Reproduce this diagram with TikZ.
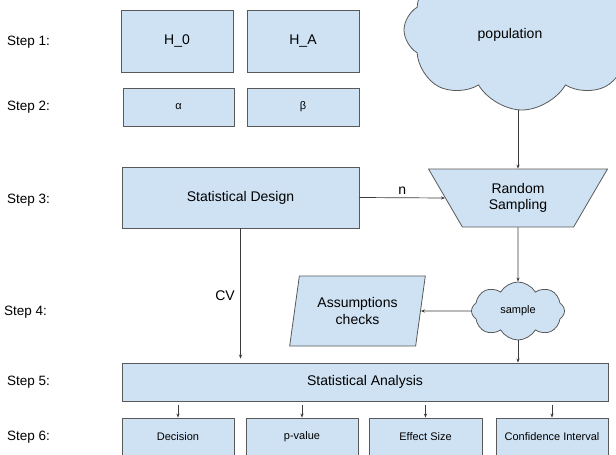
\documentclass[tikz,border=0pt]{standalone}
\usepackage{xcolor}
\usepackage{fontspec}
\setmainfont{Liberation Sans}
\usepackage{tikz}
\usetikzlibrary{arrows.meta,shapes.geometric,shapes.symbols}

\definecolor{boxfill}{HTML}{CFE2F3}
\definecolor{boxline}{HTML}{595959}
\definecolor{flowline}{HTML}{3C3C3C}

\tikzset{
	stepbox/.style={shape=rectangle,draw=boxline,fill=boxfill,line width=0.9pt,inner sep=0pt},
	bigtext/.style={font=\fontsize{14}{16.5}\selectfont},
	smalltext/.style={font=\fontsize{11}{13}\selectfont},
	steplabel/.style={anchor=west,inner sep=0pt,font=\fontsize{13.5}{16}\selectfont},
	flow/.style={draw=flowline,line width=0.7pt,-{Stealth[length=4pt,width=3.2pt]}}
}

\begin{document}
\begin{tikzpicture}[x=1pt,y=-1pt]
	\useasboundingbox (0,0) rectangle (616,455);
	% step labels down the left side
	\node (s1) at(7,42)[steplabel]{Step 1:};
	\node (s2) at(7,107)[steplabel]{Step 2:};
	\node (s3) at(7,200)[steplabel]{Step 3:};
	\node (s4) at(4,312)[steplabel]{Step 4:};
	\node (s5) at(7,382)[steplabel]{Step 5:};
	\node (s6) at(7,437)[steplabel]{Step 6:};
	% hypotheses and error rates
	\node (h0) at(177,41)[stepbox,bigtext,minimum width=112,minimum height=62]{H\_0};
	\node (ha) at(303,41)[stepbox,bigtext,minimum width=112,minimum height=62]{H\_A};
	\node (alpha) at(178.5,107)[stepbox,smalltext,minimum width=111,minimum height=38]{α};
	\node (beta) at(303,107)[stepbox,smalltext,minimum width=112,minimum height=38]{β};
	% design and sampling
	\node (design) at(240.5,197.5)[stepbox,bigtext,minimum width=237,minimum height=61]{Statistical Design};
	\node (population) at(522,30)[shape=cloud,cloud puffs=8,cloud puff arc=120,draw=boxline,fill=boxfill,line width=0.8pt,
		minimum width=236,minimum height=160,bigtext]{};
	\node (poptext) at(510,35)[bigtext]{population};
	\node (sampling) at(518,198)[shape=trapezium,shape border rotate=180,trapezium left angle=59,trapezium right angle=59,
		trapezium stretches=true,minimum width=180,minimum height=58,draw=boxline,fill=boxfill,line width=0.8pt,
		bigtext,align=center,inner sep=0pt]{Random\\Sampling};
	\node (sample) at(518,311)[shape=cloud,cloud puffs=8,cloud puff arc=120,draw=boxline,fill=boxfill,line width=0.8pt,
		minimum width=93,minimum height=58,inner sep=0pt,smalltext]{sample};
	\node (checks) at(357.5,311)[shape=trapezium,trapezium left angle=76,trapezium right angle=104,
		trapezium stretches=true,minimum width=137,minimum height=70,draw=boxline,fill=boxfill,line width=0.8pt,
		bigtext,align=center,inner sep=0pt]{Assumptions\\checks};
	% analysis and results
	\node (analysis) at(365,382)[stepbox,bigtext,minimum width=486,minimum height=38]{Statistical Analysis};
	\node (decision) at(178,437)[stepbox,smalltext,minimum width=112,minimum height=38]{Decision};
	\node (pvalue) at(302,437)[stepbox,smalltext,minimum width=112,minimum height=38]{p-value};
	\node (effect) at(425.5,437)[stepbox,smalltext,minimum width=113,minimum height=38]{Effect Size};
	\node (interval) at(552,437)[stepbox,smalltext,minimum width=112,minimum height=38]{Confidence Interval};

	\draw[flow] (sampling.north |- population.south) -- (sampling.north);
	\draw[flow] (design.east) -- node[above,bigtext,pos=0.5]{n} (sampling.west);
	\draw[flow,shorten >=4pt] (design.south) -- node[left,bigtext,xshift=-2pt]{CV} (design.south |- analysis.north);
	\draw[flow] (sampling.south) -- (sample.north);
	\draw[flow] (sample.west) -- (checks.east);
	\draw[flow] (sample.south) -- (sample.south |- analysis.north);
	\draw[flow,shorten <=4pt] (analysis.south -| decision.north) -- (decision.north);
	\draw[flow,shorten <=4pt] (analysis.south -| pvalue.north) -- (pvalue.north);
	\draw[flow,shorten <=4pt] (analysis.south -| effect.north) -- (effect.north);
	\draw[flow,shorten <=4pt] (analysis.south -| interval.north) -- (interval.north);
\end{tikzpicture}
\end{document}
